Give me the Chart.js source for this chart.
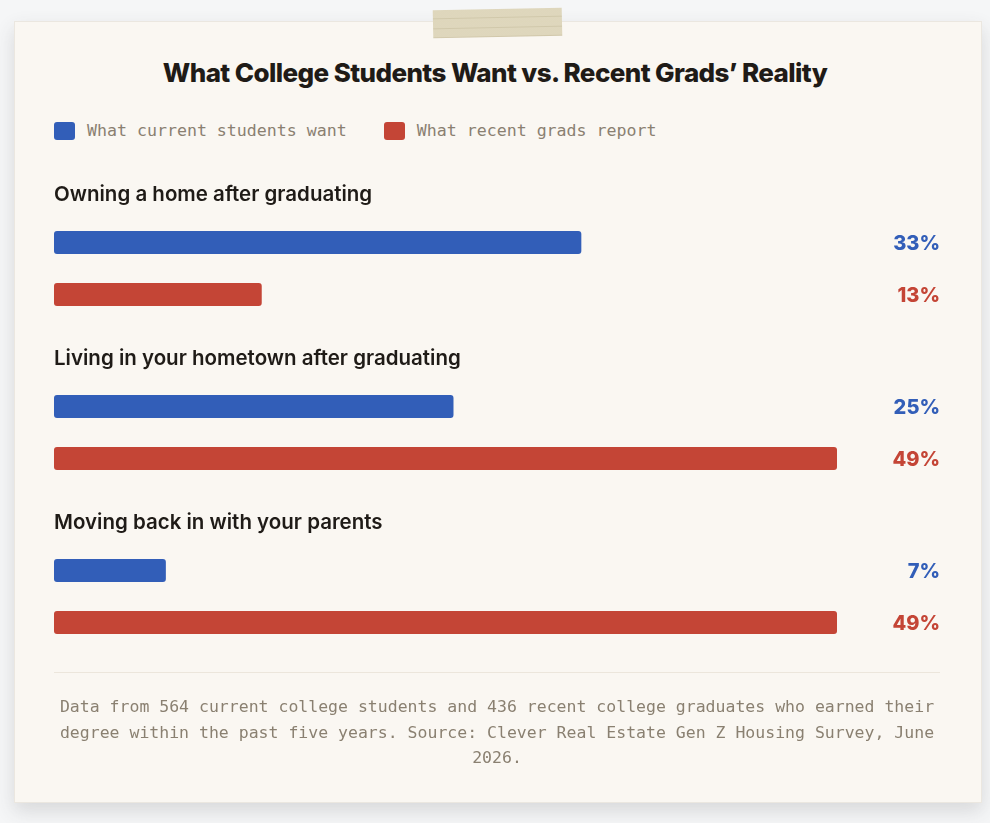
<!DOCTYPE html>
<html>
<head>
<meta charset="utf-8">
<script src="https://cdn.jsdelivr.net/npm/chart.js@4.4.1/dist/chart.umd.min.js"></script>
<style>
  html,body{margin:0;padding:0;}
  body{width:990px;height:823px;background:#f5f6f7;position:relative;overflow:hidden;font-family:Inter,"Noto Sans",sans-serif;}
  .card{position:absolute;left:14px;top:21px;width:966px;height:780px;background:#faf7f2;border:1px solid #ebe7e0;box-shadow:0 8px 18px rgba(60,60,70,0.16);}
  .tape{position:absolute;left:433px;top:9px;width:129px;height:28px;transform:rotate(-1.2deg);
    background:repeating-linear-gradient(180deg,#ddd5ba 0px,#ddd5ba 8px,#cfc6a8 8px,#cfc6a8 9.5px);opacity:0.97;z-index:3;}
  .title{position:absolute;left:0;width:990px;top:57px;text-align:center;font-weight:800;font-size:26px;letter-spacing:-0.6px;color:#1f1b17;z-index:2;}
  .legend{position:absolute;left:54px;top:121px;display:flex;align-items:center;font-family:"DejaVu Sans Mono",monospace;font-size:16.6px;color:#8a8071;z-index:2;}
  .legend .sw{width:21px;height:18px;border-radius:3px;display:inline-block;margin-right:12px;}
  .legend .item{display:flex;align-items:center;margin-right:37px;}
  .sep{position:absolute;left:54px;top:672px;width:886px;height:1px;background:#ece6dc;z-index:2;}
  .foot{position:absolute;left:54px;top:694px;width:886px;text-align:center;font-family:"DejaVu Sans Mono",monospace;font-size:16.5px;line-height:25.5px;color:#8a8071;z-index:2;}
  #wrap{position:absolute;left:0;top:0;width:990px;height:823px;z-index:2;}
</style>
</head>
<body>
<div class="card"></div>
<div class="tape"></div>
<div class="title">What College Students Want vs. Recent Grads’ Reality</div>
<div class="legend">
  <span class="item"><span class="sw" style="background:#325eb8"></span>What current students want</span>
  <span class="item"><span class="sw" style="background:#c44536"></span>What recent grads report</span>
</div>
<div id="wrap"><canvas id="c"></canvas></div>
<div class="sep"></div>
<div class="foot">Data from 564 current college students and 436 recent college graduates who earned their degree within the past five years. Source: Clever Real Estate Gen Z Housing Survey, June 2026.</div>
<script>
const categories = ["Owning a home after graduating","Living in your hometown after graduating","Moving back in with your parents"];
const seriesNames = ["What current students want","What recent grads report"];
const studentsWant = [33,25,7];
const gradsReport = [13,49,49];
const colors = ["#325eb8","#c44536"];

const labelsPlugin = {
  id:'groupLabels',
  afterDatasetsDraw(chart){
    const ctx = chart.ctx;
    const y = chart.scales.y;
    const area = chart.chartArea;
    ctx.save();
    categories.forEach((cat,i)=>{
      const c = y.getPixelForValue(i);
      const band = (area.bottom-area.top)/categories.length;
      ctx.font = '600 20.5px Inter, "Noto Sans", sans-serif';
      ctx.fillStyle = '#1f1b17';
      ctx.textAlign='left';ctx.textBaseline='middle';
      ctx.fillText(cat, area.left, c - band/2 + 8.5);
    });
    chart.data.datasets.forEach((ds,di)=>{
      const meta = chart.getDatasetMeta(di);
      meta.data.forEach((bar,i)=>{
        ctx.font = '800 20px Inter, "Noto Sans", sans-serif';
        ctx.fillStyle = ds.backgroundColor;
        ctx.textAlign='right';ctx.textBaseline='middle';
        ctx.fillText(ds.data[i]+'%', 940, bar.y+1);
      });
    });
    ctx.restore();
  }
};

new Chart(document.getElementById('c'),{
  type:'bar',
  data:{
    labels:categories,
    datasets:[
      {label:seriesNames[0],data:studentsWant,backgroundColor:colors[0],borderRadius:3,borderSkipped:false},
      {label:seriesNames[1],data:gradsReport,backgroundColor:colors[1],borderRadius:3,borderSkipped:false}
    ]
  },
  options:{
    indexAxis:'y',
    responsive:true,maintainAspectRatio:false,animation:false,
    categoryPercentage:0.634,barPercentage:0.4423,
    layout:{padding:{left:54,right:153,top:186.5,bottom:144.5}},
    scales:{
      x:{display:false,min:0,max:49},
      y:{display:false}
    },
    plugins:{legend:{display:false},tooltip:{enabled:false}}
  },
  plugins:[labelsPlugin]
});
</script>
</body>
</html>
